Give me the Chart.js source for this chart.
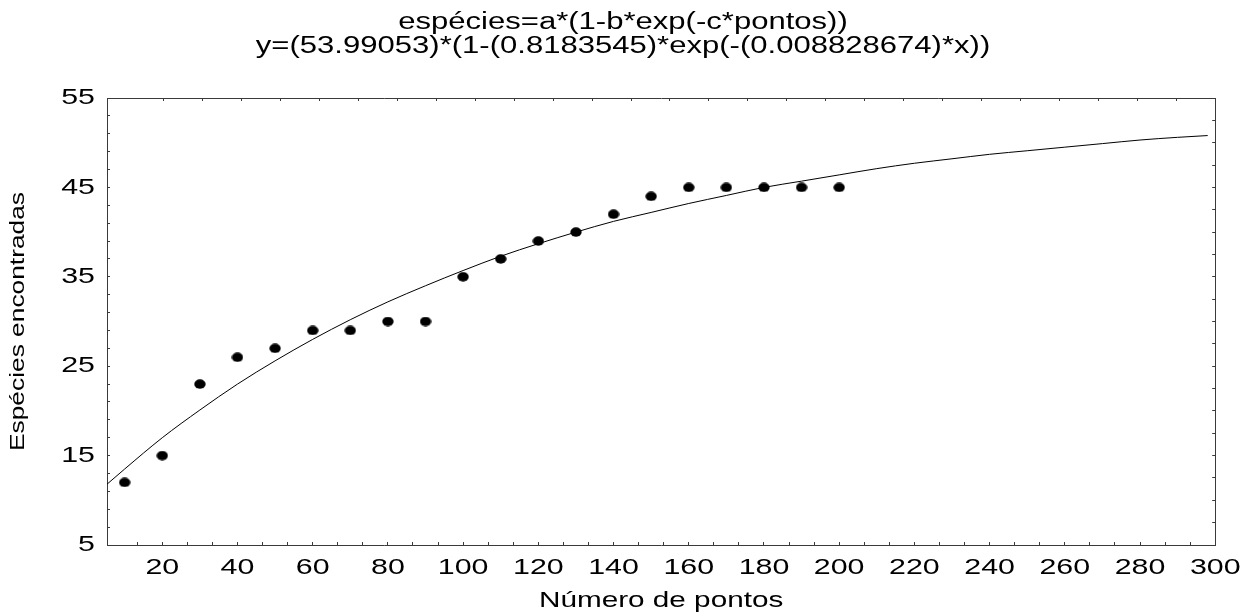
<!DOCTYPE html>
<html>
<head>
<meta charset="utf-8">
<script src="https://cdn.jsdelivr.net/npm/chart.js@4/dist/chart.umd.min.js"></script>
<style>
  html, body { margin: 0; padding: 0; background: #fff; }
  canvas { display: block; }
</style>
</head>
<body>
<canvas id="c" width="1246" height="616"></canvas>
<script>
// ---- data ----
const pontos = [10, 20, 30, 40, 50, 60, 70, 80, 90, 100, 110, 120, 130, 140, 150, 160, 170, 180, 190, 200];
const especies = [12, 15, 23, 26, 27, 29, 29, 30, 30, 35, 37, 39, 40, 42, 44, 45, 45, 45, 45, 45];
const curveX = [5.3, 10, 20, 30, 40, 50, 60, 70, 80, 90, 100, 110, 120, 130, 140, 150, 160, 170, 180, 190, 200, 210, 220, 230, 240, 250, 260, 270, 280, 290, 298];
const curveY = [11.8, 13.5, 17.0, 20.1, 23.0, 25.6, 28.0, 30.2, 32.2, 34.0, 35.7, 37.3, 38.7, 40.0, 41.2, 42.2, 43.2, 44.1, 45.0, 45.7, 46.4, 47.1, 47.7, 48.2, 48.7, 49.1, 49.5, 49.9, 50.3, 50.6, 50.8];
const xTickLabels = [20, 40, 60, 80, 100, 120, 140, 160, 180, 200, 220, 240, 260, 280, 300];
const yTickLabels = [5, 15, 25, 35, 45, 55];
const titleLines = ['espécies=a*(1-b*exp(-c*pontos))', 'y=(53.99053)*(1-(0.8183545)*exp(-(0.008828674)*x))'];
const xTitle = 'Número de pontos';
const yTitle = 'Espécies encontradas';

// ---- styling ----
const FONT = '"Liberation Sans", Arial, sans-serif';
const AX = '#3a3a3a';
const TEXT_SX = 1.35; // the reference text is drawn horizontally widened

const canvas = document.getElementById('c');
const ctx = canvas.getContext('2d');
const origFill = ctx.fillText.bind(ctx);
ctx.fillText = function (text, x, y) {
  this.save();
  this.translate(x, y);
  this.scale(TEXT_SX, 1);
  origFill(text, 0, 0);
  this.restore();
};

function ellipseStyle(w, h) {
  const c = document.createElement('canvas');
  c.width = w; c.height = h;
  const g = c.getContext('2d');
  g.fillStyle = '#000';
  g.beginPath();
  g.ellipse(w / 2, h / 2, w / 2 - 0.3, h / 2 - 0.3, 0, 0, Math.PI * 2);
  g.fill();
  return c;
}

const near = (v, arr) => arr.some(a => Math.abs(a - v) < 1e-6);

new Chart(ctx, {
  type: 'scatter',
  data: {
    datasets: [
      {
        type: 'line',
        data: curveX.map((x, i) => ({ x, y: curveY[i] })),
        borderColor: '#000',
        borderWidth: 1,
        pointRadius: 0,
        fill: false,
        cubicInterpolationMode: 'monotone',
        xAxisID: 'x', yAxisID: 'y'
      },
      {
        type: 'scatter',
        data: pontos.map((x, i) => ({ x, y: especies[i] })),
        pointStyle: ellipseStyle(12, 10),
        pointRadius: 6,
        backgroundColor: '#000',
        borderColor: '#000',
        xAxisID: 'x', yAxisID: 'y'
      }
    ]
  },
  options: {
    responsive: false,
    animation: false,
    devicePixelRatio: 1,
    layout: { padding: 0 },
    plugins: {
      legend: { display: false },
      tooltip: { enabled: false },
      title: {
        display: true,
        text: titleLines,
        color: '#000',
        font: { family: FONT, size: 23, weight: 'normal', lineHeight: '23.5px' },
        padding: { top: 11, bottom: 0 }
      }
    },
    scales: {
      x: {
        type: 'linear', position: 'bottom', min: 5.3, max: 300,
        afterFit(s) { s.height = 71; },
        ticks: {
          stepSize: 20 / 3, autoSkip: false, maxRotation: 0, color: '#000', padding: 12,
          font: { family: FONT, size: 22.5 },
          callback: v => near(v, xTickLabels) ? String(Math.round(v)) : ''
        },
        grid: { drawOnChartArea: false, tickLength: -3, color: AX, lineWidth: 1 },
        border: { color: AX, width: 1 },
        title: { display: true, text: xTitle, color: '#000', font: { family: FONT, size: 22 }, padding: { top: 0, bottom: 2 } }
      },
      x2: {
        type: 'linear', position: 'top', min: (5.3 - 10) / (290 / 28), max: 28,
        afterFit(s) { s.height = 40; },
        ticks: { display: false, stepSize: 1 },
        grid: { drawOnChartArea: false, tickLength: -3, color: AX, lineWidth: 1 },
        border: { color: AX, width: 1 }
      },
      y: {
        type: 'linear', position: 'left', min: 5, max: 55,
        afterFit(s) { s.width = 107; },
        ticks: {
          stepSize: 2, autoSkip: false, color: '#000', padding: 15,
          font: { family: FONT, size: 22.5 },
          callback: v => near(v, yTickLabels) ? String(Math.round(v)) : ''
        },
        grid: { drawOnChartArea: false, tickLength: -3, color: AX, lineWidth: 1 },
        border: { color: AX, width: 1 },
        title: { display: true, text: yTitle, color: '#000', font: { family: FONT, size: 19.5 }, padding: { top: 7, bottom: 0 } }
      },
      y2: {
        type: 'linear', position: 'right', min: 5, max: 55,
        afterFit(s) { s.width = 28; },
        ticks: { display: false, stepSize: 2.5 },
        grid: { drawOnChartArea: false, tickLength: -3, color: AX, lineWidth: 1 },
        border: { color: AX, width: 1 }
      }
    }
  }
});
</script>
</body>
</html>
